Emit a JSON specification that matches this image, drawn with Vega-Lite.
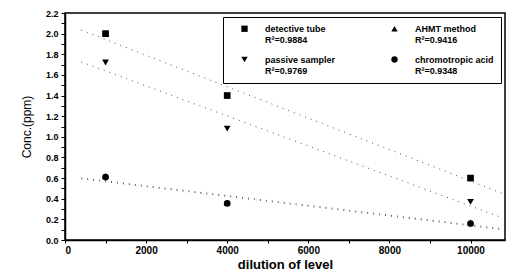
{
  "$schema": "https://vega.github.io/schema/vega-lite/v6.json",
  "width": 440,
  "height": 227,
  "autosize": {"type": "none"},
  "padding": {"left": 65, "top": 13, "right": 4, "bottom": 36},
  "background": "white",
  "config": {
    "font": "Liberation Sans",
    "view": {"stroke": "black", "strokeWidth": 1.5},
    "axis": {"labelOverlap": false}
  },
  "data": {
    "values": [
      {"series": "detective tube", "dilution": 1000, "conc": 2.0},
      {"series": "detective tube", "dilution": 4000, "conc": 1.4},
      {"series": "detective tube", "dilution": 10000, "conc": 0.6},
      {"series": "passive sampler", "dilution": 1000, "conc": 1.72},
      {"series": "passive sampler", "dilution": 4000, "conc": 1.08},
      {"series": "passive sampler", "dilution": 10000, "conc": 0.37},
      {"series": "AHMT method", "dilution": 1000, "conc": 0.62},
      {"series": "AHMT method", "dilution": 4000, "conc": 0.36},
      {"series": "AHMT method", "dilution": 10000, "conc": 0.17},
      {"series": "chromotropic acid", "dilution": 1000, "conc": 0.61},
      {"series": "chromotropic acid", "dilution": 4000, "conc": 0.355},
      {"series": "chromotropic acid", "dilution": 10000, "conc": 0.16}
    ]
  },
  "encoding": {
    "x": {
      "field": "dilution",
      "type": "quantitative",
      "scale": {"domain": [0, 10850], "nice": false, "zero": false},
      "axis": {
        "values": [0, 1000, 2000, 3000, 4000, 5000, 6000, 7000, 8000, 9000, 10000],
        "labelExpr": "datum.value % 2000 == 0 ? format(datum.value, 'd') : ''",
        "labelOverlap": false,
        "title": "dilution of level",
        "titleFontSize": 13,
        "titleFontWeight": "bold",
        "titleColor": "black",
        "titlePadding": 3,
        "labelFontSize": 10,
        "labelFontWeight": "bold",
        "labelColor": "black",
        "labelPadding": 2,
        "domainColor": "black",
        "domainWidth": 1.5,
        "tickColor": "black",
        "tickSize": 3,
        "grid": false
      }
    },
    "y": {
      "field": "conc",
      "type": "quantitative",
      "scale": {"domain": [0, 2.2], "nice": false},
      "axis": {
        "values": [0, 0.1, 0.2, 0.3, 0.4, 0.5, 0.6, 0.7, 0.8, 0.9, 1.0, 1.1, 1.2, 1.3, 1.4, 1.5, 1.6, 1.7, 1.8, 1.9, 2.0, 2.1, 2.2],
        "labelExpr": "round(datum.value * 10) % 2 == 0 ? format(datum.value, '.1f') : ''",
        "labelOverlap": false,
        "title": "Conc.(ppm)",
        "titleFontSize": 12,
        "titleFontWeight": "normal",
        "titleColor": "black",
        "titlePadding": 12,
        "labelFontSize": 9,
        "labelFontWeight": "bold",
        "labelColor": "black",
        "labelPadding": 3,
        "domainColor": "black",
        "domainWidth": 1.5,
        "tickColor": "black",
        "tickSize": 4,
        "grid": false
      }
    }
  },
  "layer": [
    {
      "transform": [
        {"regression": "conc", "on": "dilution", "groupby": ["series"], "extent": [400, 10800]}
      ],
      "mark": {"type": "line", "color": "#555", "strokeWidth": 1, "strokeDash": [1, 5]},
      "encoding": {
        "detail": {"field": "series"}
      }
    },
    {
      "mark": {"type": "point", "filled": true, "color": "black", "opacity": 1, "size": 45},
      "encoding": {
        "shape": {
          "field": "series",
          "type": "nominal",
          "scale": {
            "domain": ["detective tube", "passive sampler", "AHMT method", "chromotropic acid"],
            "range": ["square", "triangle-down", "triangle-up", "circle"]
          },
          "legend": {
            "title": null,
            "orient": "top-right",
            "offset": 4,
            "columns": 2,
            "columnPadding": 44,
            "rowPadding": 8,
            "padding": 7,
            "strokeColor": "black",
            "symbolFillColor": "black",
            "symbolStrokeColor": "black",
            "symbolSize": 40,
            "symbolOffset": 10,
            "labelOffset": 16,
            "labelFontSize": 9,
            "labelFontWeight": "bold",
            "labelColor": "black",
            "labelLimit": 140,
            "labelExpr": "datum.label == 'detective tube' ? ['detective tube', 'R²=0.9884'] : datum.label == 'AHMT method' ? ['AHMT method', 'R²=0.9416'] : datum.label == 'passive sampler' ? ['passive sampler', 'R²=0.9769'] : ['chromotropic acid', 'R²=0.9348']"
          }
        }
      }
    }
  ]
}
